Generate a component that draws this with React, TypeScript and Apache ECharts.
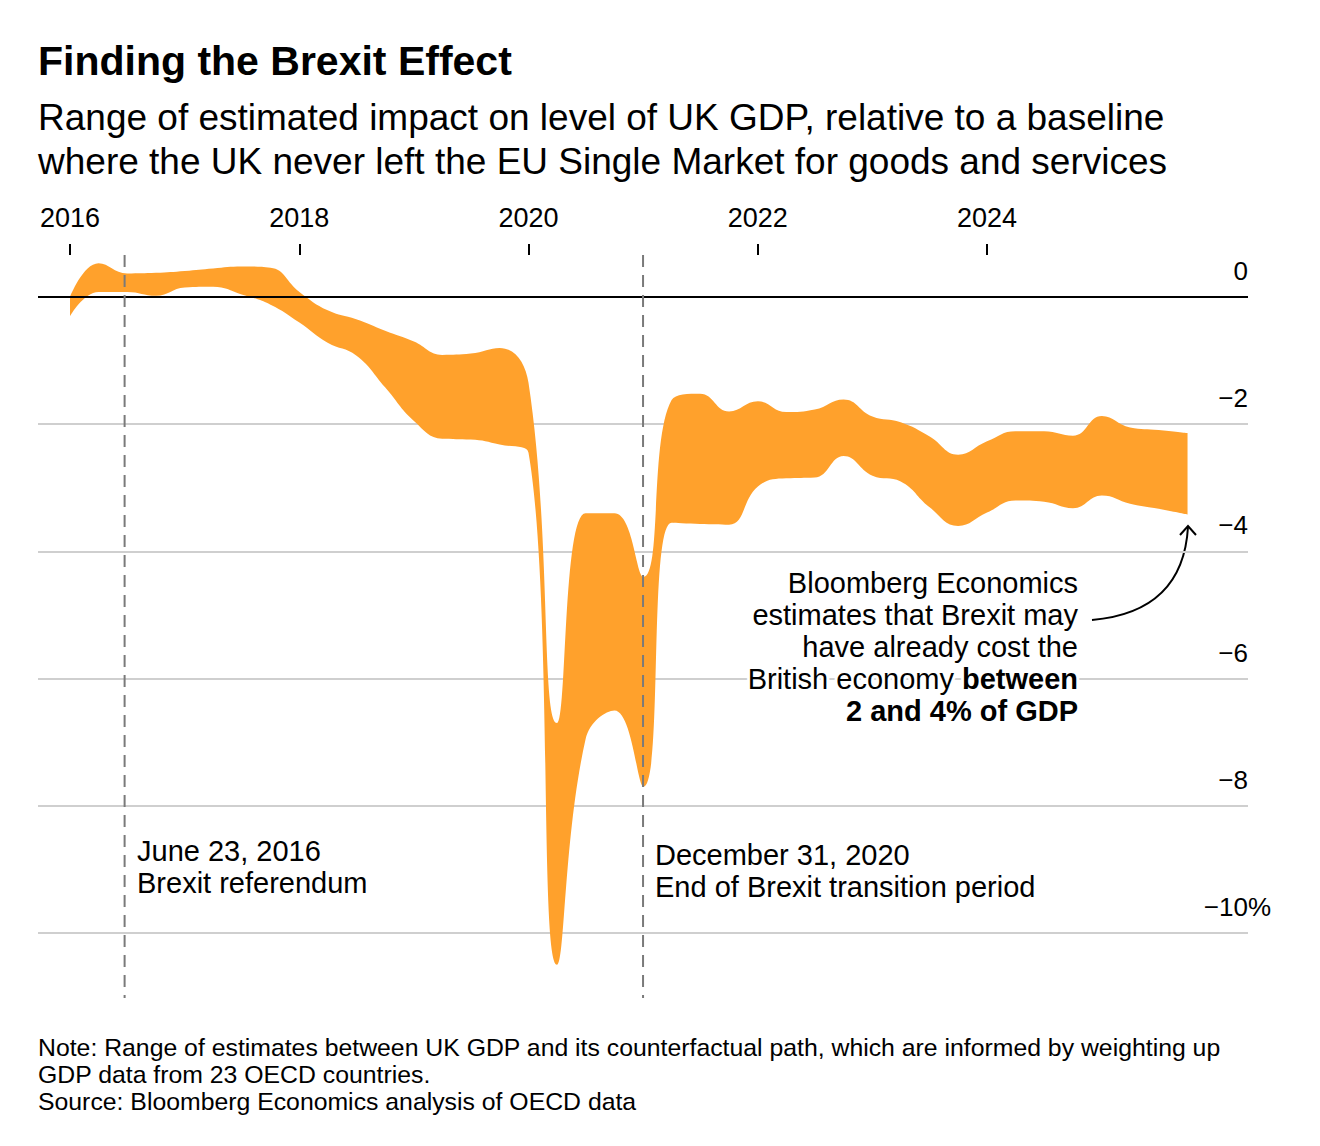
import React, { useEffect, useRef } from "react";
import * as echarts from "echarts";

// Quarter start dates for the estimate range
const quarters = [
  "2016-01-01", "2016-04-01", "2016-07-01", "2016-10-01",
  "2017-01-01", "2017-04-01", "2017-07-01", "2017-10-01",
  "2018-01-01", "2018-04-01", "2018-07-01", "2018-10-01",
  "2019-01-01", "2019-04-01", "2019-07-01", "2019-10-01",
  "2020-01-01", "2020-04-01", "2020-07-01", "2020-10-01",
  "2021-01-01", "2021-04-01", "2021-07-01", "2021-10-01",
  "2022-01-01", "2022-04-01", "2022-07-01", "2022-10-01",
  "2023-01-01", "2023-04-01", "2023-07-01", "2023-10-01",
  "2024-01-01", "2024-04-01", "2024-07-01", "2024-10-01",
  "2025-01-01", "2025-04-01", "2025-07-01", "2025-10-01",
];

// Upper end of the estimated impact range (% of GDP)
const upperBound = [
  0.0, 0.53, 0.37, 0.38,
  0.41, 0.45, 0.48, 0.46,
  0.08, -0.21, -0.35, -0.53,
  -0.7, -0.91, -0.89, -0.8,
  -1.35, -6.7, -3.4, -3.4,
  -4.4, -1.62, -1.52, -1.8,
  -1.64, -1.81, -1.77, -1.61,
  -1.88, -1.97, -2.19, -2.48,
  -2.27, -2.11, -2.11, -2.18,
  -1.87, -2.05, -2.09, -2.14,
];

// Lower end of the estimated impact range (% of GDP)
const lowerBound = [
  -0.3, 0.08, 0.08, 0.02,
  0.15, 0.16, 0.04, -0.12,
  -0.4, -0.72, -0.92, -1.42,
  -1.95, -2.23, -2.24, -2.32,
  -2.45, -10.5, -6.95, -6.5,
  -7.7, -3.55, -3.57, -3.58,
  -2.98, -2.85, -2.84, -2.5,
  -2.81, -2.9, -3.3, -3.6,
  -3.39, -3.2, -3.22, -3.32,
  -3.12, -3.25, -3.33, -3.42,
];

const yearTicks = [2016, 2018, 2020, 2022, 2024];
const valueTicks = [-10, -8, -6, -4, -2, 0];

const eventDates = ["2016-06-23", "2020-12-31"];
const eventLabels = [
  ["June 23, 2016", "Brexit referendum"],
  ["December 31, 2020", "End of Brexit transition period"],
];

const titleText = "Finding the Brexit Effect";
const subtitleLines = [
  "Range of estimated impact on level of UK GDP, relative to a baseline",
  "where the UK never left the EU Single Market for goods and services",
];
const calloutLines = [
  "{r|Bloomberg Economics}",
  "{r|estimates that Brexit may}",
  "{r|have already cost the}",
  "{r|British economy }{b|between}",
  "{b|2 and 4% of GDP}",
];
const noteLines = [
  "Note: Range of estimates between UK GDP and its counterfactual path, which are informed by weighting up",
  "GDP data from 23 OECD countries.",
  "Source: Bloomberg Economics analysis of OECD data",
];

const FONT = '"Liberation Sans", Arial, Helvetica, sans-serif';
const ORANGE = "#FFA12C";

const W = 1320;
const H = 1146;

export default function App() {
  const ref = useRef<HTMLDivElement>(null);

  useEffect(() => {
    if (!ref.current) return;
    const chart = echarts.init(ref.current, undefined, { renderer: "svg" });

    const ts = (d: string) => Date.parse(d);
    const t2016 = Date.UTC(2016, 0, 1);
    const t2024 = Date.UTC(2024, 0, 1);
    // plot area: x 38..1248, year 2016 at 70 px and 2024 at 987 px
    const pxPerYear = (987 - 70) / 8;
    const msPerPx = (t2024 - t2016) / (987 - 70);
    const xMin = t2016 - (70 - 38) * msPerPx;
    const xMax = t2016 + (1248 - 70) * msPerPx;
    const yearMin = 2016 - (70 - 38) / pxPerYear;
    const yearMax = 2016 + (1248 - 70) / pxPerYear;

    // vertical span of the event lines (in % units, 63.6 px per unit)
    const lineTop = (297 - 255) / 63.6;
    const lineBottom = -(998 - 297) / 63.6;

    const lowerData = quarters.map((q, i) => [ts(q), lowerBound[i]]);
    const widthData = quarters.map((q, i) => [ts(q), +(upperBound[i] - lowerBound[i]).toFixed(3)]);

    const fmtValue = (v: number) => (v < 0 ? "\u2212" + Math.abs(v) : String(v));

    const textStyle = (size: number, weight: string | number = "normal") => ({
      fill: "#000",
      font: `${weight} ${size}px ${FONT}`,
    });

    const eventSeries = eventDates.map((d, i) => ({
      type: "line",
      name: "event" + i,
      xAxisIndex: 0,
      data: [
        [ts(d), lineTop],
        [ts(d), lineBottom],
      ],
      symbol: "none",
      clip: false,
      silent: true,
      z: 6,
      lineStyle: { color: "#7a7a7a", width: 2, type: [12, 8] },
    }));

    const graphics: any[] = [];
    graphics.push({
      type: "text",
      x: 38,
      y: 61,
      style: { ...textStyle(41, "bold"), text: titleText, textAlign: "left", textVerticalAlign: "middle" },
    });
    subtitleLines.forEach((line, i) => {
      graphics.push({
        type: "text",
        x: 38,
        y: 117 + i * 44,
        style: { ...textStyle(37), text: line, textAlign: "left", textVerticalAlign: "middle" },
      });
    });
    const eventPos = [
      [137, 851],
      [655, 855],
    ];
    eventLabels.forEach((lines, i) => {
      lines.forEach((line, j) => {
        graphics.push({
          type: "text",
          x: eventPos[i][0],
          y: eventPos[i][1] + j * 32,
          style: { ...textStyle(29), text: line, textAlign: "left", textVerticalAlign: "middle" },
        });
      });
    });
    // callout text, with a white halo so gridlines stop at the letters
    calloutLines.forEach((line, i) => {
      graphics.push({
        type: "text",
        x: 1078,
        y: 583 + i * 32,
        z: 10,
        style: {
          text: line,
          textAlign: "right",
          textVerticalAlign: "middle",
          rich: {
            r: { fontFamily: FONT, fontSize: 29, fill: "#000", stroke: "#fff", lineWidth: 6, strokeFirst: true },
            b: { fontFamily: FONT, fontSize: 29, fontWeight: "bold", fill: "#000", stroke: "#fff", lineWidth: 6, strokeFirst: true },
          },
        },
      });
    });
    // callout arrow
    graphics.push({
      type: "bezierCurve",
      shape: { x1: 1092, y1: 620, x2: 1188, y2: 527, cpx1: 1183, cpy1: 612 },
      style: { stroke: "#000", lineWidth: 2, fill: null },
    });
    graphics.push({
      type: "polyline",
      shape: { points: [[1180, 535], [1188, 526], [1196, 535]] },
      style: { stroke: "#000", lineWidth: 2, fill: null },
    });
    noteLines.forEach((line, i) => {
      graphics.push({
        type: "text",
        x: 38,
        y: 1047 + i * 27,
        style: { ...textStyle(24.8), text: line, textAlign: "left", textVerticalAlign: "middle" },
      });
    });

    const option: any = {
      animation: false,
      backgroundColor: "#fff",
      grid: { left: 38, right: W - 1248, top: 297, bottom: H - 933, containLabel: false },
      xAxis: [
        {
          // date axis that places the series
          type: "time",
          show: false,
          min: xMin,
          max: xMax,
        },
        {
          // year axis drawn above the plot
          type: "value",
          position: "top",
          offset: 42,
          min: yearMin,
          max: yearMax,
          axisLine: { show: false },
          axisTick: {
            show: true,
            length: 11,
            customValues: yearTicks,
            lineStyle: { color: "#000", width: 2 },
          },
          axisLabel: {
            customValues: yearTicks,
            formatter: (v: number) => String(Math.round(v)),
            fontFamily: FONT,
            fontSize: 27,
            color: "#000",
            margin: 24,
            hideOverlap: false,
          },
          splitLine: { show: false },
        },
      ],
      yAxis: {
        type: "value",
        position: "right",
        min: -10,
        max: 0,
        interval: 2,
        axisLine: { show: false },
        axisTick: { show: false },
        splitLine: { show: true, lineStyle: { color: "#cfcfcf", width: 2 } },
        axisLabel: {
          inside: true,
          margin: -23,
          verticalAlign: "bottom",
          padding: [0, 0, 13, 0],
          formatter: (v: number) =>
            valueTicks.includes(v)
              ? v === -10
                ? `{n|${fmtValue(v)}}{n|%}`
                : `{n|${fmtValue(v)}}{h|%}`
              : "",
          rich: {
            n: { fontFamily: FONT, fontSize: 26, color: "#000" },
            h: { fontFamily: FONT, fontSize: 26, color: "rgba(0,0,0,0)" },
          },
        },
      },
      graphic: graphics,
      series: [
        {
          type: "line",
          name: "lower",
          xAxisIndex: 0,
          data: lowerData,
          stack: "range",
          stackStrategy: "all",
          smooth: 0.45,
          symbol: "none",
          clip: false,
          silent: true,
          lineStyle: { width: 0, opacity: 0 },
        },
        {
          type: "line",
          name: "range",
          xAxisIndex: 0,
          data: widthData,
          stack: "range",
          stackStrategy: "all",
          smooth: 0.45,
          symbol: "none",
          clip: false,
          silent: true,
          lineStyle: { width: 0, opacity: 0 },
          areaStyle: { color: ORANGE, opacity: 1 },
          markLine: {
            silent: true,
            z: 5,
            symbol: ["none", "none"],
            label: { show: false },
            lineStyle: { color: "#000", width: 2, type: "solid" },
            data: [{ yAxis: 0 }],
          },
        },
        ...eventSeries,
      ],
    };

    chart.setOption(option);
    return () => chart.dispose();
  }, []);

  return (
    <div
      ref={ref}
      style={{ position: "fixed", left: 0, top: 0, width: W, height: H, background: "#fff" }}
    />
  );
}
